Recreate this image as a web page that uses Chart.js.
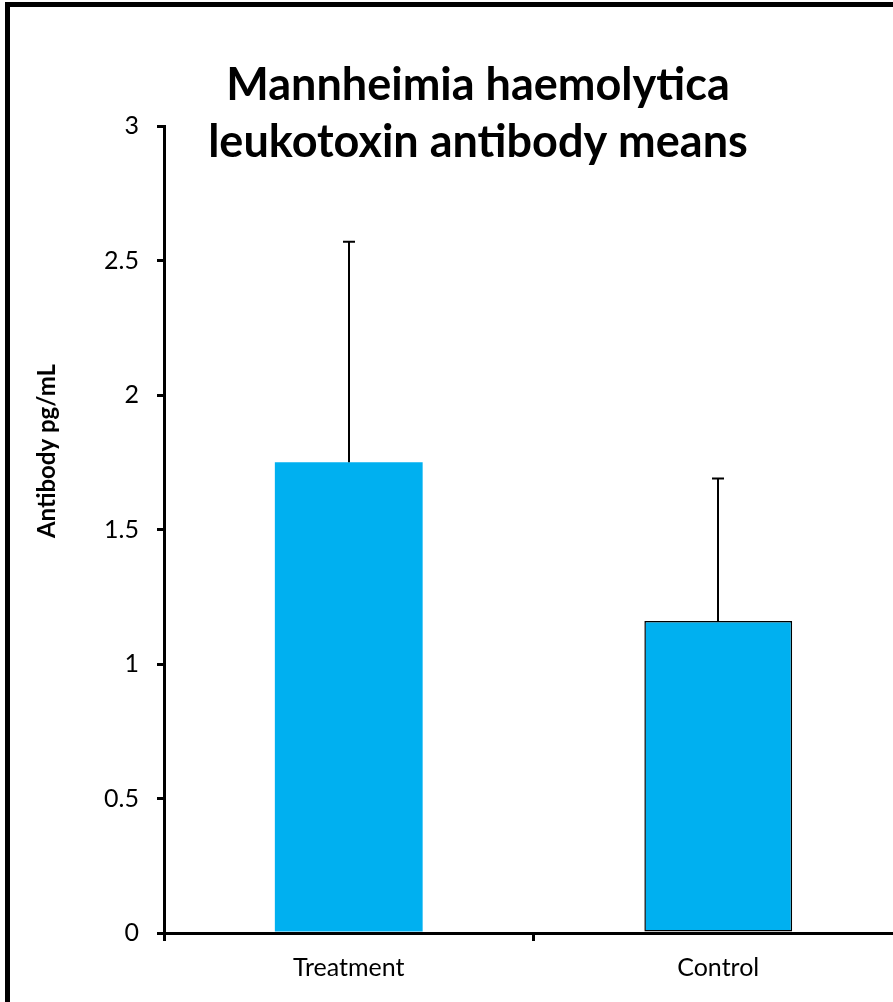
<!DOCTYPE html>
<html>
<head>
<meta charset="utf-8">
<script src="https://cdn.jsdelivr.net/npm/chart.js@4.4.1/dist/chart.umd.min.js"></script>
<style>
  html, body { margin: 0; padding: 0; background: #fff; overflow: hidden; }
  #wrap { position: relative; width: 930px; height: 1002px; }
</style>
</head>
<body>
<div id="wrap"><canvas id="c" width="930" height="1002"></canvas></div>
<script>
const categories = ['Treatment', 'Control'];
const means = [1.75, 1.16];
const errors = [0.82, 0.53];
const yTicks = [0, 0.5, 1, 1.5, 2, 2.5, 3];
const yTickLabels = ['0', '0.5', '1', '1.5', '2', '2.5', '3'];
const titleLines = ['Mannheimia haemolytica', 'leukotoxin antibody means'];
const yAxisTitle = 'Antibody pg/mL';
const barColor = '#00B0F0';

const FONT = 'Lato, "Open Sans", sans-serif';

const decor = {
  id: 'decor',
  beforeDraw(chart) {
    const ctx = chart.ctx;
    ctx.save();
    ctx.fillStyle = '#fff';
    ctx.fillRect(0, 0, chart.width, chart.height);
    ctx.strokeStyle = '#000';
    ctx.lineWidth = 5;
    ctx.strokeRect(7.5, 4.5, chart.width + 20, chart.height + 20);
    ctx.restore();
  },
  afterDatasetsDraw(chart) {
    const ctx = chart.ctx;
    const y = chart.scales.y;
    const meta = chart.getDatasetMeta(0);
    ctx.save();
    ctx.strokeStyle = '#000';
    ctx.lineWidth = 2;
    meta.data.forEach((bar, i) => {
      const x = Math.round(bar.x);
      const yb = y.getPixelForValue(means[i]);
      const yt = y.getPixelForValue(means[i] + errors[i]);
      ctx.beginPath();
      ctx.moveTo(x, yb);
      ctx.lineTo(x, yt);
      ctx.moveTo(x - 6, yt);
      ctx.lineTo(x + 6, yt);
      ctx.stroke();
    });
    ctx.restore();
  },
  afterDraw(chart) {
    const ctx = chart.ctx;
    ctx.save();
    ctx.fillStyle = '#000';
    ctx.textAlign = 'center';
    ctx.textBaseline = 'alphabetic';
    ctx.font = 'bold 45px ' + FONT;
    ctx.fillText(titleLines[0], 478, 100);
    ctx.fillText(titleLines[1], 478, 157);
    ctx.translate(47, 451);
    ctx.rotate(-Math.PI / 2);
    ctx.textBaseline = 'middle';
    ctx.font = 'bold 24px ' + FONT;
    ctx.fillText(yAxisTitle, 0, 0);
    ctx.restore();
  }
};

new Chart(document.getElementById('c'), {
  type: 'bar',
  data: {
    labels: categories,
    datasets: [{
      data: means,
      backgroundColor: barColor,
      borderColor: '#000',
      borderWidth: [0, 1.5],
      borderSkipped: false,
      categoryPercentage: 1,
      barPercentage: 0.4
    }]
  },
  options: {
    responsive: false,
    animation: false,
    devicePixelRatio: 1,
    layout: { padding: { top: 126, right: 27, bottom: 0, left: 0 } },
    plugins: { legend: { display: false }, tooltip: { enabled: false }, title: { display: false } },
    scales: {
      x: {
        afterFit(s) { s.height = 69; },
        grid: { display: true, drawOnChartArea: false, drawTicks: true, tickLength: 8, lineWidth: 3, color: '#000', offset: true },
        border: { display: true, color: '#000', width: 3 },
        ticks: { color: '#000', font: { family: FONT, size: 25 }, padding: 12 }
      },
      y: {
        min: 0, max: 3,
        afterFit(s) { s.width = 164; },
        afterBuildTicks(s) { s.ticks = yTicks.map(v => ({ value: v })); },
        grid: { display: true, drawOnChartArea: false, drawTicks: true, tickLength: 7, lineWidth: 3, color: '#000' },
        border: { display: true, color: '#000', width: 3 },
        ticks: {
          color: '#000', font: { family: FONT, size: 25 }, padding: 18,
          callback(v) { const i = yTicks.indexOf(v); return i >= 0 ? yTickLabels[i] : ''; }
        }
      }
    }
  },
  plugins: [decor]
});
</script>
</body>
</html>
